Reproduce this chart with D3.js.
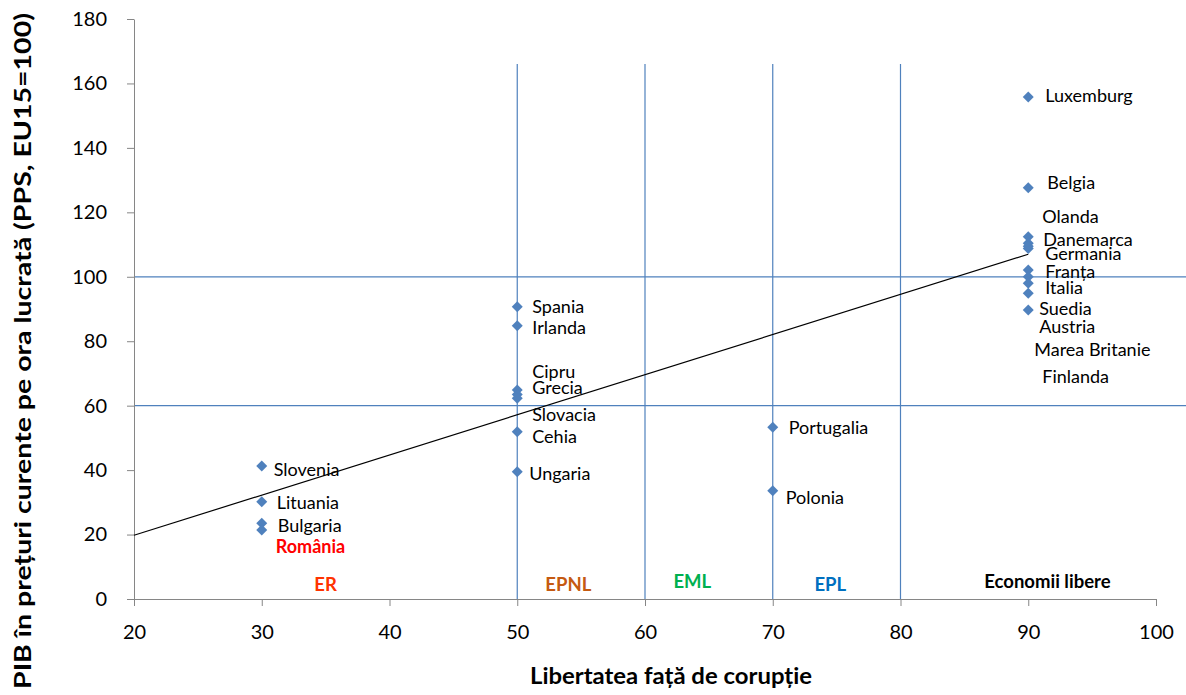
<!DOCTYPE html>
<html>
<head>
<meta charset="utf-8">
<script src="https://cdn.jsdelivr.net/npm/d3@7"></script>
<style>
  body { margin: 0; background: #fff; }
  svg { display: block; font-family: Lato, "Open Sans", sans-serif; }
</style>
</head>
<body>
<div id="chart"></div>
<script>
// countries, corruption-freedom score (x) and GDP per hour worked (y)
const countries = ["Luxemburg", "Belgia", "Olanda", "Danemarca", "Germania", "Franța", "Italia", "Austria", "Marea Britanie", "Suedia", "Finlanda",
    "Spania", "Irlanda", "Cipru", "Grecia", "Slovacia", "Cehia", "Ungaria",
    "Portugalia", "Polonia",
    "Slovenia", "Lituania", "Bulgaria", "România"];
const freedom = [90, 90, 90, 90, 90, 90, 90, 90, 90, 90, 90,
    50, 50, 50, 50, 50, 50, 50,
    70, 70,
    30, 30, 30, 30];
const gdp = [155.8, 127.6, 112.4, 110.4, 108.8, 102.1, 100.0, 98.0, 94.9, 89.7, 109.5,
    90.7, 84.8, 64.9, 63.5, 62.3, 51.9, 39.5,
    53.3, 33.6,
    41.3, 30.2, 23.5, 21.4];

// label nudges (px) as they were hand-placed in the original
const labelNudge = {
    "Luxemburg": [17, -1], "Belgia": [19, -5], "Olanda": [14, -20], "Danemarca": [15, -4],
    "Germania": [17, 5], "Franța": [17, 2], "Italia": [17, 11], "Austria": [11, 43],
    "Marea Britanie": [6, 56], "Suedia": [11, -1], "Finlanda": [14, 131],
    "Spania": [15, 0], "Irlanda": [15, 2], "Cipru": [15, -18], "Grecia": [15, -7],
    "Slovacia": [15, 16], "Cehia": [15, 5], "Ungaria": [12, 2],
    "Portugalia": [16, 0], "Polonia": [13, 7],
    "Slovenia": [12, 4], "Lituania": [15, 1], "Bulgaria": [16, 2], "România": [14, 17]
};

const xTicks = [20, 30, 40, 50, 60, 70, 80, 90, 100];
const yTicks = [0, 20, 40, 60, 80, 100, 120, 140, 160, 180];
const vLines = [50, 60, 70, 80];
const vLineTop = 166;
const hLines = [60, 100];

const zoneLabels = ["ER", "EPNL", "EML", "EPL", "Economii libere"];
const zoneX = [35, 54, 63.7, 74.5, 91.5];
const zoneY = [4.5, 4.5, 5.5, 4.5, 5.5];
const zoneColors = ["#FF3300", "#C55A11", "#00B050", "#0070C0", "#000000"];

const width = 1186, height = 695;
const margin = {top: 19, right: 30, bottom: 96, left: 134};

const svg = d3.select("#chart").append("svg")
    .attr("width", width)
    .attr("height", height);

const x = d3.scaleLinear().domain([20, 100]).range([margin.left, width - margin.right]);
const y = d3.scaleLinear().domain([0, 180]).range([height - margin.bottom, margin.top]);

const blue = "#4F81BD";
const axisGrey = "#868686";

// reference lines
svg.append("g").selectAll("line")
    .data(hLines)
    .join("line")
    .attr("x1", x(20)).attr("x2", width)
    .attr("y1", d => y(d)).attr("y2", d => y(d))
    .attr("stroke", blue).attr("stroke-width", 1.2);

svg.append("g").selectAll("line")
    .data(vLines)
    .join("line")
    .attr("x1", d => x(d)).attr("x2", d => x(d))
    .attr("y1", y(vLineTop)).attr("y2", y(0))
    .attr("stroke", blue).attr("stroke-width", 1.2);

// axes
const xAxis = svg.append("g")
    .attr("transform", `translate(0,${y(0)})`)
    .call(d3.axisBottom(x).tickValues(xTicks).tickSize(7).tickSizeOuter(0).tickPadding(19));
const yAxis = svg.append("g")
    .attr("transform", `translate(${x(20)},0)`)
    .call(d3.axisLeft(y).tickValues(yTicks).tickSize(7).tickSizeOuter(0).tickPadding(20));

[xAxis, yAxis].forEach(a => {
    a.select(".domain").attr("stroke", axisGrey);
    a.selectAll(".tick line").attr("stroke", axisGrey);
    a.selectAll(".tick text")
        .attr("fill", "#000")
        .style("font-family", "Lato, sans-serif")
        .style("font-size", "20px");
});

// trendline (least squares), drawn from the axis start to the last x
const mx = d3.mean(freedom), my = d3.mean(gdp);
const slope = d3.sum(freedom, (d, i) => (d - mx) * (gdp[i] - my)) / d3.sum(freedom, d => (d - mx) ** 2);
const intercept = my - slope * mx;
svg.append("line")
    .attr("x1", x(20)).attr("y1", y(intercept + slope * 20))
    .attr("x2", x(d3.max(freedom))).attr("y2", y(intercept + slope * d3.max(freedom)))
    .attr("stroke", "#000").attr("stroke-width", 1.2);

// points
const diamond = d3.symbol().type(d3.symbolSquare).size(60);
svg.append("g").selectAll("path")
    .data(countries)
    .join("path")
    .attr("d", diamond)
    .attr("transform", (d, i) => `translate(${x(freedom[i])},${y(gdp[i])}) rotate(45)`)
    .attr("fill", blue);

// data labels
svg.append("g").selectAll("text")
    .data(countries)
    .join("text")
    .attr("x", (d, i) => x(freedom[i]) + labelNudge[d][0])
    .attr("y", (d, i) => y(gdp[i]) + labelNudge[d][1])
    .attr("dy", "0.35em")
    .attr("fill", d => d === "România" ? "#FF0000" : "#000")
    .attr("font-weight", d => d === "România" ? "bold" : "normal")
    .style("font-size", "18px")
    .text(d => d);

// zone labels
svg.append("g").selectAll("text")
    .data(zoneLabels)
    .join("text")
    .attr("x", (d, i) => x(zoneX[i]))
    .attr("y", (d, i) => y(zoneY[i]))
    .attr("text-anchor", "middle")
    .attr("dy", "0.35em")
    .attr("fill", (d, i) => zoneColors[i])
    .attr("font-weight", "bold")
    .style("font-size", "18.5px")
    .text(d => d);

// axis titles
svg.append("text")
    .attr("x", 671).attr("y", 684)
    .attr("text-anchor", "middle")
    .attr("font-weight", "bold")
    .attr("textLength", 282)
    .attr("lengthAdjust", "spacingAndGlyphs")
    .style("font-size", "23px")
    .text("Libertatea față de corupție");

svg.append("text")
    .attr("transform", `translate(31,${351}) rotate(-90)`)
    .attr("text-anchor", "middle")
    .attr("font-weight", "bold")
    .attr("textLength", 676)
    .attr("lengthAdjust", "spacingAndGlyphs")
    .style("font-size", "23px")
    .text("PIB în prețuri curente pe ora lucrată (PPS, EU15=100)");
</script>
</body>
</html>
